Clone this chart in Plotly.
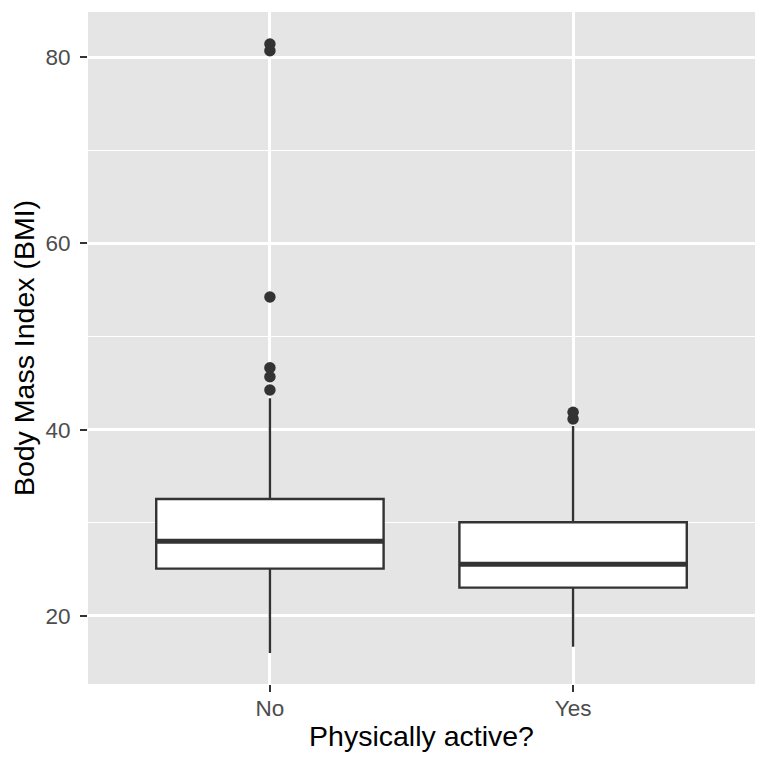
import plotly.graph_objects as go

categories = ["No", "Yes"]
q1 = [25.08, 23.04]
median = [28.02, 25.55]
q3 = [32.56, 30.06]
lower_whisker = [16.03, 16.70]
upper_whisker = [43.37, 40.39]
outliers_no = [44.26, 45.68, 46.65, 54.24, 80.67, 81.39]
outliers_yes = [41.14, 41.86]
y_ticks = [20, 40, 60, 80]

dark = "#333333"
fig = go.Figure()

fig.add_trace(go.Box(
    x=categories, q1=q1, median=median, q3=q3,
    lowerfence=lower_whisker, upperfence=upper_whisker,
    boxpoints=False, fillcolor="white", width=0.75,
    line=dict(color=dark, width=2.4), whiskerwidth=0,
    hoverinfo="skip", showlegend=False,
))
# thicker median line drawn as a degenerate box
fig.add_trace(go.Box(
    x=categories, q1=median, median=median, q3=median,
    lowerfence=median, upperfence=median,
    boxpoints=False, fillcolor="rgba(0,0,0,0)", width=0.75,
    line=dict(color=dark, width=5), whiskerwidth=0,
    hoverinfo="skip", showlegend=False,
))
out_x = [categories[0]] * len(outliers_no) + [categories[1]] * len(outliers_yes)
out_y = outliers_no + outliers_yes
fig.add_trace(go.Scatter(
    x=out_x, y=out_y, mode="markers",
    marker=dict(color=dark, size=11.5, line=dict(width=0)),
    showlegend=False, hoverinfo="skip",
))

fig.update_layout(
    width=768, height=768,
    margin=dict(l=88, r=13, t=12, b=84),
    paper_bgcolor="white", plot_bgcolor="#E5E5E5",
    boxmode="overlay",
    font=dict(family="Liberation Sans, Arial, sans-serif"),
)
fig.update_xaxes(
    type="category", range=[-0.6, 1.6],
    showgrid=True, gridcolor="white", gridwidth=2.5,
    zeroline=False, showline=False,
    ticks="outside", ticklen=7, tickwidth=2.4, tickcolor=dark,
    tickfont=dict(size=22.5, color="#4D4D4D"),
    ticklabelstandoff=-3,
    title=dict(text="Physically active?", font=dict(size=28.5, color="black"), standoff=6),
)
fig.update_yaxes(
    range=[12.7, 84.83], tickvals=y_ticks,
    showgrid=True, gridcolor="white", gridwidth=2.5,
    minor=dict(dtick=10, tick0=0, showgrid=True, gridcolor="white", gridwidth=1.3, ticklen=0),
    zeroline=False, showline=False,
    ticks="outside", ticklen=7, tickwidth=2.4, tickcolor=dark,
    tickfont=dict(size=22.5, color="#4D4D4D"),
    ticklabelstandoff=5,
    title=dict(text="Body Mass Index (BMI)", font=dict(size=28.5, color="black"), standoff=2),
)

fig.write_html("out.html")
